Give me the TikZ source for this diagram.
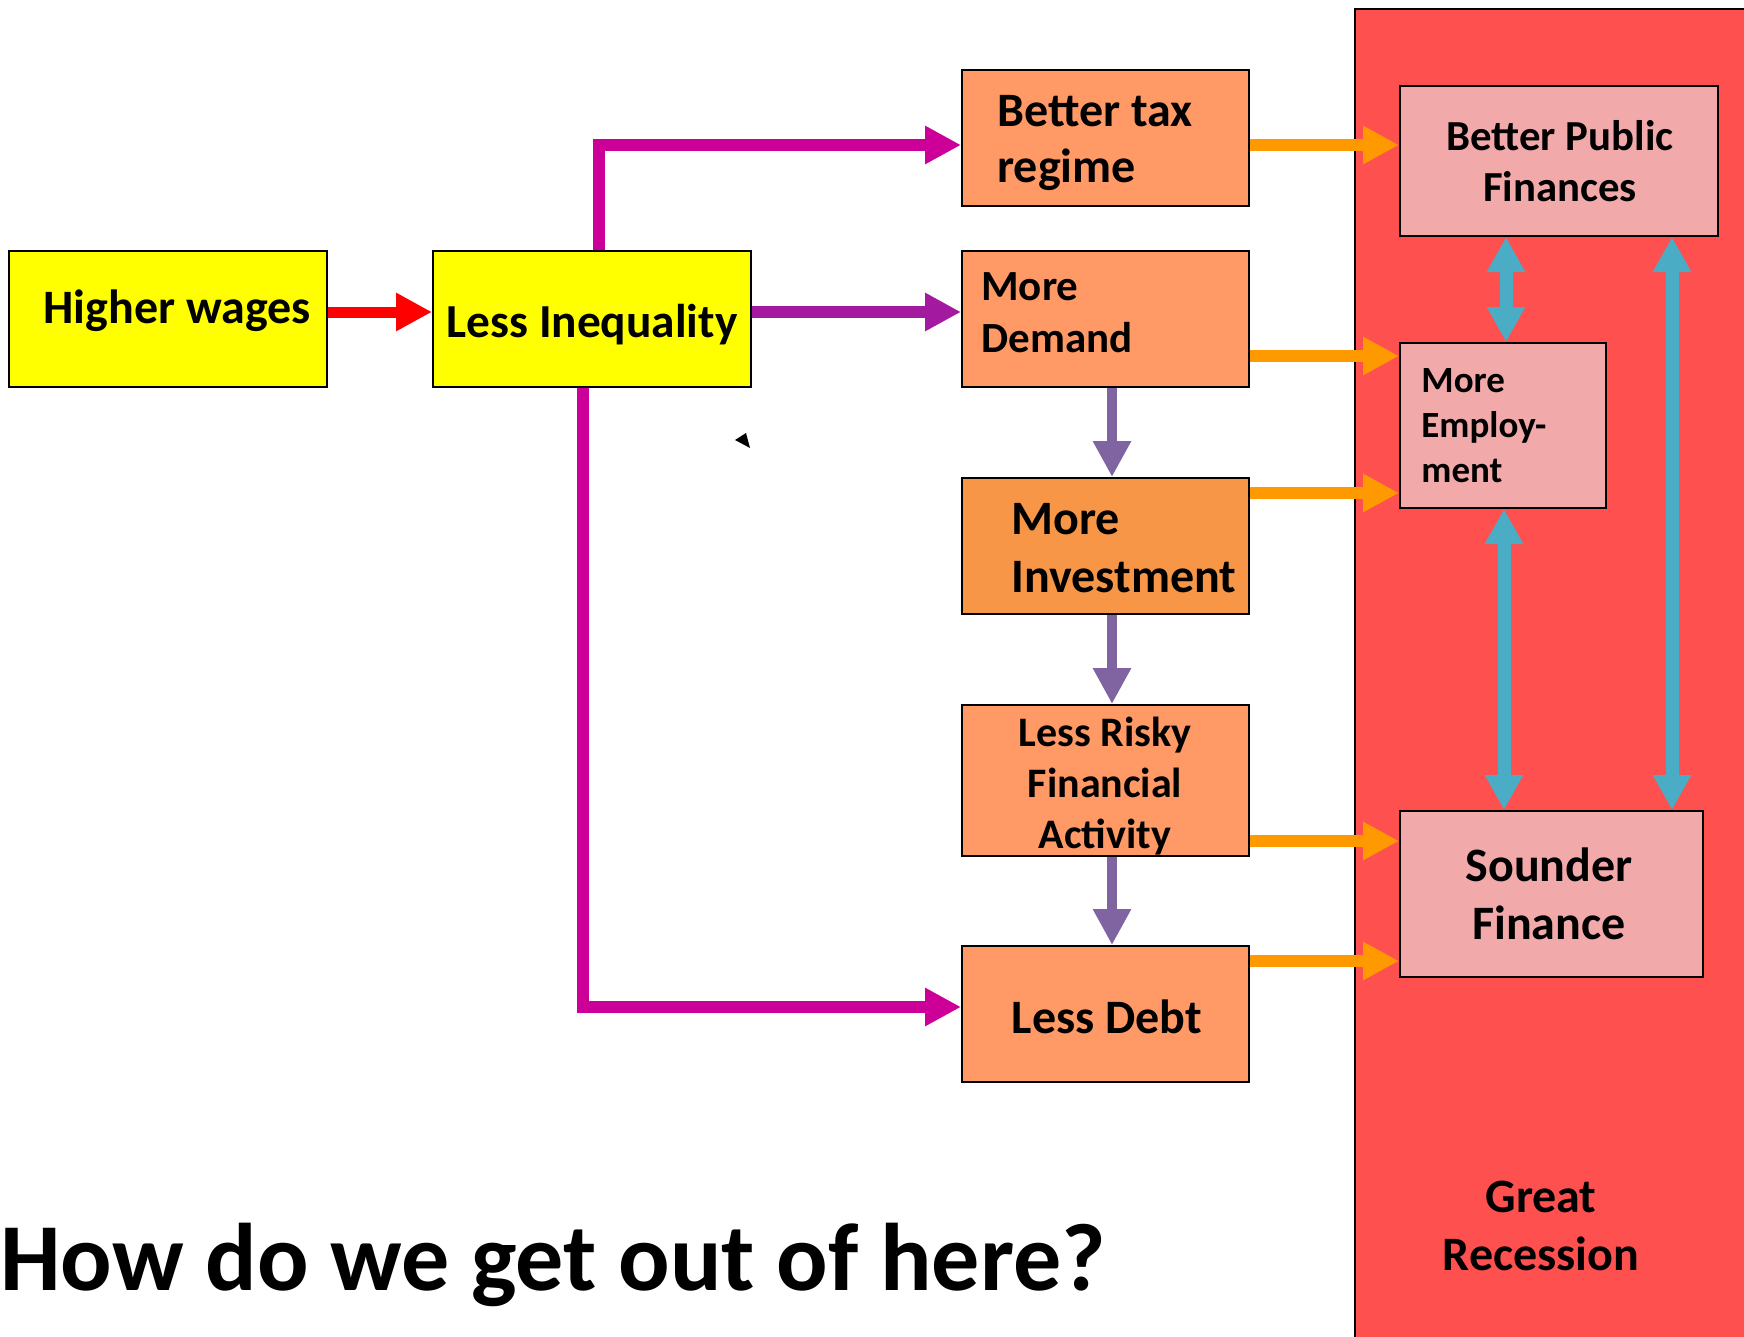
\documentclass[tikz,border=0pt]{standalone}
\usepackage{fontspec}
\setmainfont{Carlito}
\usetikzlibrary{arrows.meta}
\definecolor{yel}{HTML}{FFFF00}
\definecolor{orA}{HTML}{FF9966}
\definecolor{orB}{HTML}{F79646}
\definecolor{panelred}{HTML}{FF5050}
\definecolor{pinkbox}{HTML}{F2A9A9}
\definecolor{arrred}{HTML}{FF0000}
\definecolor{arrmag}{HTML}{CC0099}
\definecolor{arrpur}{HTML}{A31AA0}
\definecolor{arrvio}{HTML}{8064A2}
\definecolor{arrora}{HTML}{FF9900}
\definecolor{arrblu}{HTML}{4BACC6}
\begin{document}
\begin{tikzpicture}[x=0.5pt,y=-0.5pt,
  box/.style={draw=black, line width=1pt, inner sep=0pt, rectangle},
  lbl/.style={inner sep=0pt, font=\bfseries},
  tipA/.style={-{Triangle[length=18pt,width=18pt]}},
  tipB/.style={{Triangle[length=17.5pt,width=18pt]}-{Triangle[length=17.5pt,width=18pt]}},
  redarr/.style={tipA, draw=arrred, line width=5.5pt},
  magarr/.style={tipA, draw=arrmag, line width=6pt, line join=miter},
  purarr/.style={tipA, draw=arrpur, line width=6pt},
  vioarr/.style={tipA, draw=arrvio, line width=5pt},
  oraarr/.style={tipA, draw=arrora, line width=6pt},
  bluarr/.style={tipB, draw=arrblu, line width=6.5pt}]
\useasboundingbox (0,0) rectangle (1744,1337);
\fill[white] (0,0) rectangle (1744,1337);
% Great Recession panel
\fill[panelred] (1355,9) rectangle (1744,1337);
\draw[black, line width=1pt] (1355,1337) -- (1355,9) -- (1744,9);
% boxes
\node[box, fill=yel, minimum width=159pt, minimum height=68pt] (hw) at (168,319) {};
\node[box, fill=yel, minimum width=159pt, minimum height=68pt] (li) at (592,319) {};
\node[box, fill=orA, minimum width=143.5pt, minimum height=68pt] (bt) at (1105.5,138) {};
\node[box, fill=orA, minimum width=143.5pt, minimum height=68pt] (md) at (1105.5,319) {};
\node[box, fill=orB, minimum width=143.5pt, minimum height=68pt] (mi) at (1105.5,546) {};
\node[box, fill=orA, minimum width=143.5pt, minimum height=75.5pt] (lr) at (1105.5,780.5) {};
\node[box, fill=orA, minimum width=143.5pt, minimum height=68pt] (ld) at (1105.5,1014) {};
\node[box, fill=pinkbox, minimum width=159pt, minimum height=75pt] (bpf) at (1559,161) {};
\node[box, fill=pinkbox, minimum width=103pt, minimum height=82.5pt] (me) at (1503,425.5) {};
\node[box, fill=pinkbox, minimum width=151.5pt, minimum height=83pt] (sf) at (1551.5,894) {};
% labels
\node[lbl, font=\bfseries\fontsize{24pt}{28pt}\selectfont] (hwt) at (177,311) {Higher wages};
\node[lbl, font=\bfseries\fontsize{23.7pt}{28pt}\selectfont] (lit) at (592,325) {Less Inequality};
\node[lbl, anchor=west, align=left, font=\bfseries\fontsize{24pt}{28pt}\selectfont] (btt) at (997,143) {Better tax\\regime};
\node[lbl, anchor=west, align=left, font=\bfseries\fontsize{21.5pt}{26pt}\selectfont] (mdt) at (981,313) {More\\Demand};
\node[lbl, anchor=west, align=left, font=\bfseries\fontsize{24pt}{29pt}\selectfont] (mit) at (1011,548) {More\\Investment};
\node[lbl, align=center, font=\bfseries\fontsize{21pt}{25.6pt}\selectfont] (lrt) at (1105,786) {Less Risky\\Financial\\Activity};
\node[lbl, font=\bfseries\fontsize{24pt}{28pt}\selectfont] (ldt) at (1107,1016.5) {Less Debt};
\node[lbl, align=center, font=\bfseries\fontsize{21.4pt}{25.6pt}\selectfont] (bpft) at (1560,161) {Better Public\\Finances};
\node[lbl, anchor=west, align=left, font=\bfseries\fontsize{18.5pt}{22.5pt}\selectfont] (met) at (1421,426) {More\\Employ-\\ment};
\node[lbl, align=center, font=\bfseries\fontsize{24pt}{29pt}\selectfont] (sft) at (1549,894) {Sounder\\Finance};
\node[lbl, align=center, font=\bfseries\fontsize{24pt}{29pt}\selectfont] (grt) at (1541,1226) {Great\\Recession};
\node[lbl, anchor=base west, font=\bfseries\fontsize{48pt}{58pt}\selectfont] (title) at (0,1290) {How do we get out of here?};
% stray small arrowhead
\fill[black] (735,440) -- (746,433) -- (750,448) -- cycle;
% connectors
\draw[redarr] ([yshift=3.5pt]hw.east) -- ([yshift=3.5pt]li.west);
\draw[purarr] ([yshift=3.5pt]li.east) -- ([yshift=3.5pt]md.west);
\draw[magarr] ([xshift=3.5pt]li.north) |- ([yshift=-3.5pt]bt.west);
\draw[magarr] ([xshift=-4.5pt]li.south) |- ([yshift=3.5pt]ld.west);
\draw[oraarr] ([yshift=-3.5pt]bt.east) -- ([yshift=-3.5pt]bt.east -| bpf.west);
\draw[oraarr] ([yshift=-18.5pt]md.east) -- ([yshift=-18.5pt]md.east -| me.west);
\draw[oraarr] ([yshift=26.5pt]mi.east) -- ([yshift=26.5pt]mi.east -| me.west);
\draw[oraarr] ([yshift=-30.25pt]lr.east) -- ([yshift=-30.25pt]lr.east -| sf.west);
\draw[oraarr] ([yshift=26.5pt]ld.east) -- ([yshift=26.5pt]ld.east -| sf.west);
\draw[vioarr] ([xshift=3.25pt]md.south) -- ([xshift=3.25pt]mi.north);
\draw[vioarr] ([xshift=3.25pt]mi.south) -- ([xshift=3.25pt]lr.north);
\draw[vioarr] ([xshift=3.25pt]lr.south) -- ([xshift=3.25pt]ld.north);
\draw[bluarr] ([xshift=1.5pt]bpf.south -| me.north) -- ([xshift=1.5pt]me.north);
\draw[bluarr] ([xshift=0.5pt]me.south) -- ([xshift=0.5pt]me.south |- sf.north);
\draw[bluarr] ([xshift=56.5pt]bpf.south) -- ([xshift=56.5pt]bpf.south |- sf.north);
\end{tikzpicture}
\end{document}
